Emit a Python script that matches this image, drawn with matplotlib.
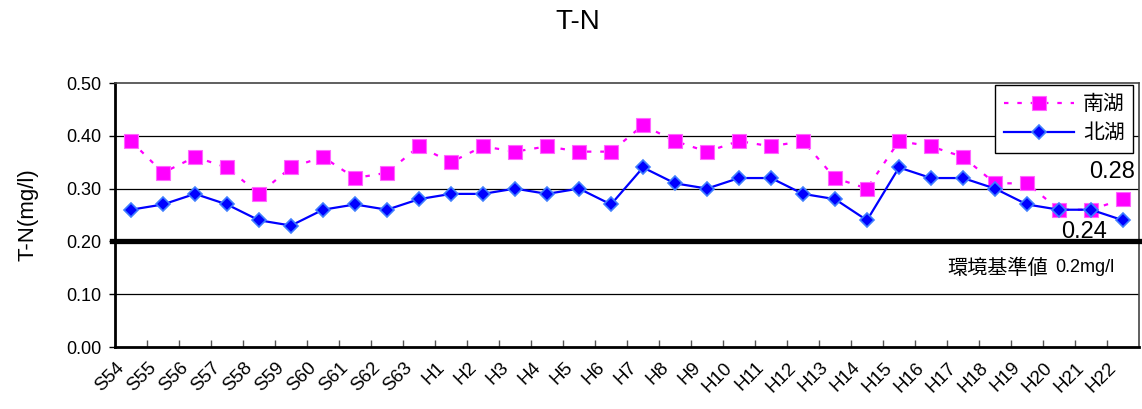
import matplotlib.pyplot as plt
import matplotlib.transforms as mtransforms
import numpy as np

plt.rcParams['font.family'] = ['Liberation Sans', 'Noto Sans CJK JP']

# survey years (Showa 54 .. Heisei 22)
years = ["S54", "S55", "S56", "S57", "S58", "S59", "S60", "S61", "S62", "S63",
         "H1", "H2", "H3", "H4", "H5", "H6", "H7", "H8", "H9", "H10", "H11",
         "H12", "H13", "H14", "H15", "H16", "H17", "H18", "H19", "H20", "H21", "H22"]

# total nitrogen, mg/l
south_lake = [0.39, 0.33, 0.36, 0.34, 0.29, 0.34, 0.36, 0.32, 0.33, 0.38,
              0.35, 0.38, 0.37, 0.38, 0.37, 0.37, 0.42, 0.39, 0.37, 0.39, 0.38,
              0.39, 0.32, 0.30, 0.39, 0.38, 0.36, 0.31, 0.31, 0.26, 0.26, 0.28]
north_lake = [0.26, 0.27, 0.29, 0.27, 0.24, 0.23, 0.26, 0.27, 0.26, 0.28,
              0.29, 0.29, 0.30, 0.29, 0.30, 0.27, 0.34, 0.31, 0.30, 0.32, 0.32,
              0.29, 0.28, 0.24, 0.34, 0.32, 0.32, 0.30, 0.27, 0.26, 0.26, 0.24]

standard = 0.2
y_ticks = [0.0, 0.1, 0.2, 0.3, 0.4, 0.5]

W, H = 1142, 409
fig = plt.figure(figsize=(W / 100, H / 100), dpi=100)
ax = fig.add_axes([115 / W, 1 - 347 / H, 1024 / W, 264 / H])

x = np.arange(len(years))

ax.plot(x, south_lake, color='#ff00ff', linestyle=(0, (2, 4)), linewidth=1.6,
        marker='s', markersize=9.5, markerfacecolor='#ff00ff',
        markeredgecolor='#ff66ff', markeredgewidth=0.8, label='南湖', zorder=4)
ax.plot(x, north_lake, color='#0000ff', linewidth=1.6,
        marker='D', markersize=6.8, markerfacecolor='#0000ff',
        markeredgecolor='#3f7fff', markeredgewidth=1.2, label='北湖', zorder=5)

# environmental standard line
ax.axhline(standard, color='black', linewidth=3.8, xmin=-0.003, clip_on=False, zorder=3)

for v in [0.1, 0.3, 0.4]:
    ax.axhline(v, color='black', linewidth=0.9, zorder=1)

ax.set_xlim(-0.5, len(years) - 0.5)
ax.set_ylim(0, 0.5)
ax.set_yticks(y_ticks)
ax.set_yticklabels([f"{v:.2f}" for v in y_ticks], fontsize=13)
ax.tick_params(axis='y', direction='out', length=4, width=1, pad=6)

ax.set_xticks(x)
ax.set_xticklabels(years, fontsize=13.5, rotation=45, ha='right', va='center',
                   rotation_mode='anchor')
ax.tick_params(axis='x', which='major', length=0, pad=13)
ax.set_xticks(x[:-1] + 0.5, minor=True)
ax.tick_params(axis='x', which='minor', direction='in', length=5, width=1, color='#555555')
shift = mtransforms.ScaledTranslation(-9 / 100, 0, fig.dpi_scale_trans)
for lbl in ax.get_xticklabels():
    lbl.set_transform(lbl.get_transform() + shift)

for side in ['left', 'bottom']:
    ax.spines[side].set_linewidth(2)
    ax.spines[side].set_color('black')
for side in ['top', 'right']:
    ax.spines[side].set_linewidth(1.2)
    ax.spines[side].set_color('#444444')

ax.set_ylabel("T-N(mg/l)", fontsize=16, labelpad=20)
fig.text(0.506, 0.945, "T-N", ha='center', va='center', fontsize=20)

# latest values
ax.annotate(f"{south_lake[-1]:.2f}", xy=(1135, H - 172), xycoords='figure pixels',
            ha='right', va='center', fontsize=17)
ax.annotate(f"{north_lake[-1]:.2f}", xy=(1107, H - 232), xycoords='figure pixels',
            ha='right', va='center', fontsize=17)

fig.text(947 / W, 1 - 268 / H, "環境基準値", fontsize=14.5,
         family='Noto Sans CJK JP', ha='left', va='center')
fig.text(1055 / W, 1 - 268 / H, "0.2mg/l", fontsize=13,
         ha='left', va='center')

leg = ax.legend(loc='upper right', bbox_to_anchor=(0.994, 0.994), borderaxespad=0,
                prop={'family': 'Noto Sans CJK JP', 'size': 15},
                frameon=True, fancybox=False, edgecolor='black', framealpha=1,
                handlelength=3.4, borderpad=0.4, labelspacing=0.35, handletextpad=0.4)
leg.get_frame().set_linewidth(1)

fig.savefig("out.png", dpi=100, facecolor='white')
